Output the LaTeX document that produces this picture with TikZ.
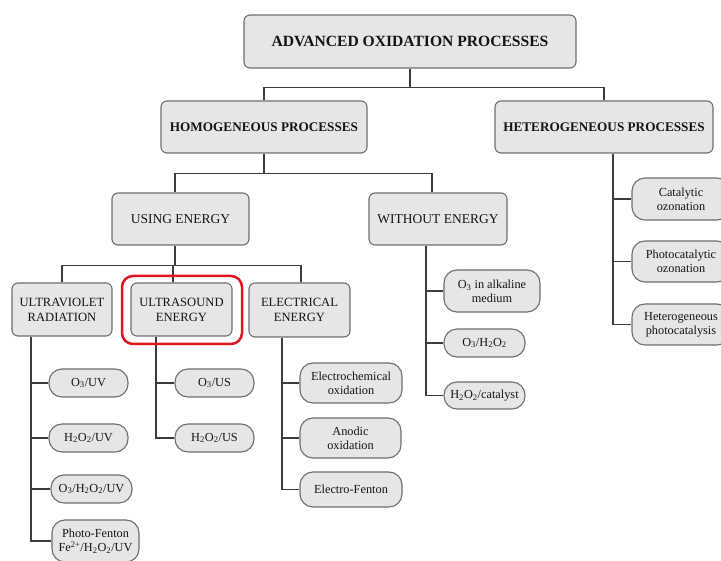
\documentclass[tikz,border=0pt]{standalone}
\usepackage{fontspec}
\setmainfont{Liberation Serif}
\usetikzlibrary{backgrounds}
\definecolor{boxfill}{HTML}{E6E6E6}
\definecolor{boxline}{HTML}{6E6E6E}
\definecolor{txtc}{HTML}{141414}
\definecolor{connc}{HTML}{3C3C3C}
\definecolor{hl}{HTML}{E0161E}
\begin{document}
\begin{tikzpicture}[x=1pt,y=-1pt,
  box/.style={draw=boxline, fill=boxfill, line width=1.1pt, rounded corners=6pt, inner sep=0pt, align=center, text=txtc},
  pill/.style={box, rounded corners=13pt, font=\fontsize{12.3}{14}\selectfont},
  sz/.style 2 args={minimum width=#1pt, minimum height=#2pt},
  topfont/.style={font=\fontsize{15.6}{18}\selectfont\bfseries},
  lvfont/.style={font=\fontsize{13.2}{16}\selectfont\bfseries},
  l2font/.style={font=\fontsize{13.5}{16}\selectfont},
  l3font/.style={font=\fontsize{12.6}{15}\selectfont},
  conn/.style={draw=connc, line width=1.3pt},
  hlbox/.style={draw=hl, line width=2.5pt, rounded corners=11pt, minimum width=120pt, minimum height=68pt}]
\useasboundingbox (0,0) rectangle (721,561);
\clip (0,0) rectangle (721,561);
% main levels
\node[box, topfont, sz={332}{53}] (aop) at (410,41.5) {ADVANCED OXIDATION PROCESSES};
\node[box, lvfont, sz={206}{52}] (homo) at (264,127) {HOMOGENEOUS PROCESSES};
\node[box, lvfont, sz={218}{52}] (hetero) at (604,127) {HETEROGENEOUS PROCESSES};
\node[box, l2font, sz={137}{52}] (using) at (180.5,219) {USING ENERGY};
\node[box, l2font, sz={138}{52}] (without) at (438,219) {WITHOUT ENERGY};
\node[box, l3font, sz={100}{53}] (uv) at (62,309.5) {ULTRAVIOLET\\RADIATION};
\node[box, l3font, sz={101}{53}] (us) at (181.5,309.5) {ULTRASOUND\\ENERGY};
\node[box, l3font, sz={101}{54}] (elec) at (299.5,310) {ELECTRICAL\\ENERGY};
\node[hlbox] (hlus) at (182,310) {};
% pills
\node[pill, sz={79}{28}] (o3uv) at (88.5,383) {O\textsubscript{3}/UV};
\node[pill, sz={79}{28}] (h2o2uv) at (88.5,438) {H\textsubscript{2}O\textsubscript{2}/UV};
\node[pill, sz={81}{28}] (o3h2o2uv) at (91.5,489) {O\textsubscript{3}/H\textsubscript{2}O\textsubscript{2}/UV};
\node[pill, sz={87}{42}] (pf) at (95.5,541) {Photo-Fenton\\Fe\textsuperscript{2+}/H\textsubscript{2}O\textsubscript{2}/UV};
\node[pill, sz={79}{28}] (o3us) at (214.5,383) {O\textsubscript{3}/US};
\node[pill, sz={79}{28}] (h2o2us) at (214.5,438) {H\textsubscript{2}O\textsubscript{2}/US};
\node[pill, sz={102}{40}] (echem) at (351,383) {Electrochemical\\oxidation};
\node[pill, sz={101}{40}] (anodic) at (350.5,438) {Anodic\\oxidation};
\node[pill, sz={102}{35}] (efenton) at (351,489.5) {Electro-Fenton};
\node[pill, sz={96}{42}] (o3alk) at (492,291) {O\textsubscript{3} in alkaline\\medium};
\node[pill, sz={81}{28}] (o3h2o2) at (484.5,343) {O\textsubscript{3}/H\textsubscript{2}O\textsubscript{2}};
\node[pill, sz={81}{27}] (h2o2cat) at (484.5,395.5) {H\textsubscript{2}O\textsubscript{2}/catalyst};
\node[pill, sz={98}{42}] (catoz) at (681,199) {Catalytic\\ozonation};
\node[pill, sz={98}{41}] (photoz) at (681,261.5) {Photocatalytic\\ozonation};
\node[pill, sz={98}{41}] (hetphoto) at (681,324.5) {Heterogeneous\\photocatalysis};
\begin{pgfonlayer}{background}
% connectors: top
\coordinate (j1) at ([yshift=-19]aop.south);
\draw[conn] (homo.north) |- (j1) -| (hetero.north);
\draw[conn] (aop.south) -- (j1);
% homogeneous
\coordinate (j2) at ([yshift=-20]homo.south);
\coordinate (un) at ([xshift=-5.5]using.north);
\coordinate (wn) at ([xshift=-6]without.north);
\draw[conn] (un) |- (j2) -| (wn);
\draw[conn] (homo.south) -- (j2);
% using energy
\coordinate (ue) at ([xshift=-5.5]using.south);
\coordinate (j3) at ([yshift=-20]ue);
\coordinate (usn) at ([xshift=-8.5]us.north);
\coordinate (eln) at ([xshift=1.5]elec.north);
\draw[conn] (uv.north) |- (j3) -| (eln);
\draw[conn] (ue) -- (j3);
\draw[conn] (usn) -- (usn |- j3);
% ultraviolet spine
\coordinate (uvs) at ([xshift=-31]uv.south);
\draw[conn] (uvs) |- (pf.west);
\draw[conn] (uvs |- o3uv.west) -- (o3uv.west);
\draw[conn] (uvs |- h2o2uv.west) -- (h2o2uv.west);
\draw[conn] (uvs |- o3h2o2uv.west) -- (o3h2o2uv.west);
% ultrasound spine
\coordinate (uss) at ([xshift=-25.5]us.south);
\draw[conn] (uss) |- (h2o2us.west);
\draw[conn] (uss |- o3us.west) -- (o3us.west);
% electrical spine
\coordinate (els) at ([xshift=-17.5]elec.south);
\draw[conn] (els) |- (efenton.west);
\draw[conn] (els |- echem.west) -- (echem.west);
\draw[conn] (els |- anodic.west) -- (anodic.west);
% without energy spine
\coordinate (wos) at ([xshift=-12]without.south);
\draw[conn] (wos) |- (h2o2cat.west);
\draw[conn] (wos |- o3alk.west) -- (o3alk.west);
\draw[conn] (wos |- o3h2o2.west) -- (o3h2o2.west);
% heterogeneous spine
\coordinate (hes) at ([xshift=9]hetero.south);
\draw[conn] (hes) |- (hetphoto.west);
\draw[conn] (hes |- catoz.west) -- (catoz.west);
\draw[conn] (hes |- photoz.west) -- (photoz.west);
\end{pgfonlayer}
\end{tikzpicture}
\end{document}
